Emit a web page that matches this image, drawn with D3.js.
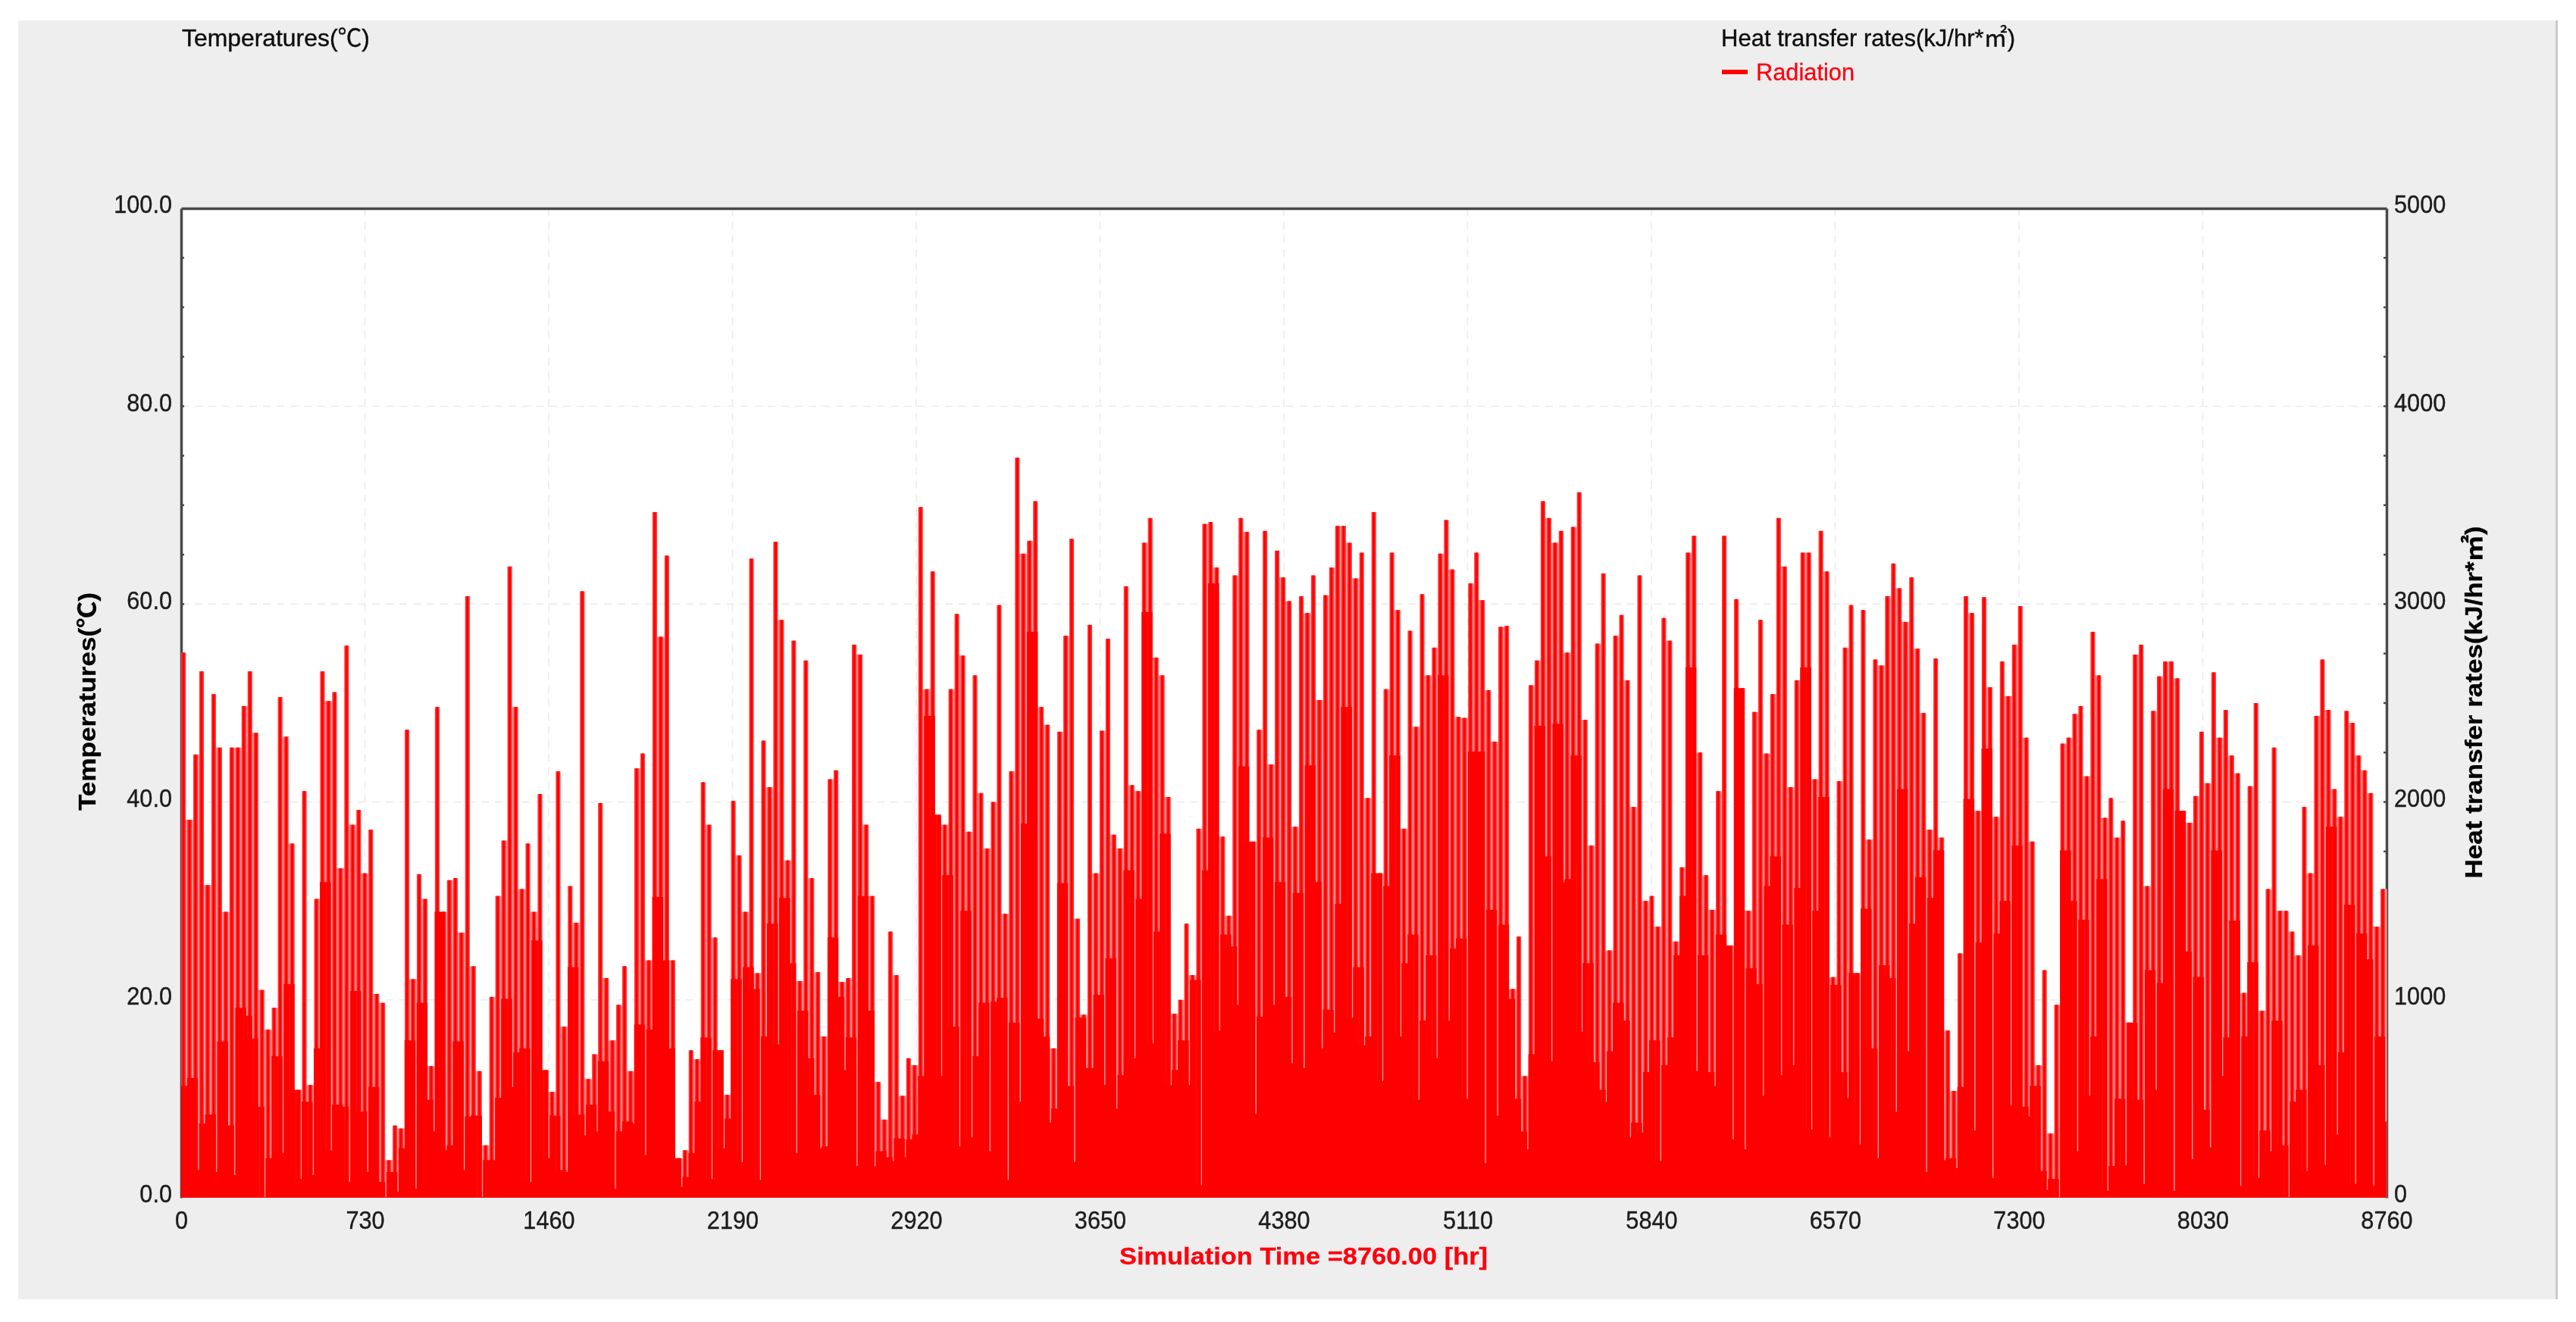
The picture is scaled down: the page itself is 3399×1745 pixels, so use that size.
<!DOCTYPE html>
<html>
<head>
<meta charset="utf-8">
<script src="https://cdn.jsdelivr.net/npm/d3@7/dist/d3.min.js"></script>
<style>
html,body{margin:0;padding:0;background:#fff;overflow:hidden}
text{font-family:"Liberation Sans",Arial,"Noto Sans CJK SC",sans-serif}
</style>
</head>
<body>
<script>
const timeTicks=[0,730,1460,2190,2920,3650,4380,5110,5840,6570,7300,8030,8760];
const tempTicks=[0,20,40,60,80,100];
const rateTicks=[0,1000,2000,3000,4000,5000];
const minorTemp=[5,10,15,25,30,35,45,50,55,65,70,75,85,90,95];
const hoursPerDay=24;
// daily peak height of the Radiation trace (read on the left axis)
const dailyPeak=[
55.1,38.2,44.8,53.2,31.6,50.9,45.5,28.9,45.5,45.5,49.7,53.2,47.0,21.0,17.0,19.2,50.6,46.6,35.8,10.9,
41.1,11.4,30.2,53.2,50.2,51.1,33.3,55.8,37.7,39.2,32.8,37.2,20.6,19.7,3.8,7.3,7.0,47.3,22.1,32.7,
30.2,13.3,49.6,28.9,32.1,32.3,26.8,60.8,23.4,12.8,5.3,20.3,30.5,36.1,63.8,49.6,31.2,35.8,28.9,40.8,
12.9,10.7,43.1,17.3,31.5,27.8,61.3,12.0,14.5,39.9,22.2,15.9,19.5,23.4,12.8,43.4,44.9,24.0,69.3,56.7,
64.9,24.0,4.0,4.8,14.9,14.0,42.0,37.7,26.3,14.9,10.4,40.1,34.6,28.9,64.6,
22.7,46.2,41.5,66.3,58.4,34.1,56.3,21.9,54.3,32.3,22.8,16.3,42.3,43.2,21.8,22.2,55.9,54.9,37.7,30.5,
11.7,7.9,26.9,22.5,10.3,14.1,13.4,69.8,51.4,63.3,38.7,37.7,51.4,59.0,54.8,37.0,52.8,40.9,35.3,40.0,
59.9,28.7,43.1,74.8,65.1,66.4,70.4,49.6,47.8,15.1,47.1,56.8,66.6,28.2,18.5,57.9,32.8,47.2,56.5,36.7,
35.3,61.8,41.7,41.1,66.2,68.7,54.6,52.8,40.5,18.6,20.0,27.7,22.5,37.3,68.1,68.3,63.7,36.5,28.5,62.9,
68.7,67.3,36.0,47.3,67.4,43.8,65.4,62.7,60.3,37.5,60.8,59.1,62.9,50.3,60.9,63.7,67.9,67.9,66.2,62.6,65.2,
40.4,69.3,32.8,51.4,65.2,59.4,37.3,57.3,47.6,61.0,52.8,55.6,65.1,68.5,63.5,48.6,48.5,62.1,65.2,60.4,
51.3,46.1,57.7,57.8,21.1,26.4,12.3,51.8,54.3,70.4,68.7,66.2,67.4,55.1,67.8,71.3,48.3,35.6,56.0,63.1,
25.0,56.8,58.9,52.3,39.5,62.9,30.0,30.5,27.4,58.6,56.3,25.9,33.4,65.2,66.9,45.0,32.6,29.1,41.1,66.9,
25.5,60.5,51.5,29.0,49.1,58.4,44.9,50.9,68.7,63.8,41.5,52.3,65.2,65.2,42.3,67.4,63.3,22.3,42.1,55.6,
59.9,22.7,59.4,36.2,54.4,53.8,60.8,64.1,61.6,58.2,62.7,55.5,49.0,37.2,54.5,36.4,16.9,10.8,24.7,60.8,
59.1,39.1,60.7,51.6,38.5,54.2,50.7,55.9,59.8,46.5,36.0,13.4,23.0,6.5,19.5,45.9,46.5,48.9,49.7,42.6,
57.2,52.8,38.4,40.4,36.4,38.1,17.7,54.9,55.9,31.5,49.2,52.7,54.2,54.2,52.5,39.1,37.9,40.6,47.1,41.9,
53.1,46.5,49.3,44.7,42.9,20.7,41.6,50.0,18.9,31.2,45.5,29.0,29.0,26.9,24.5,39.5,32.8,48.7,54.4,49.3,
41.3,38.5,49.2,48.0,44.7,43.2,40.9,27.4,31.2];
// height the trace drops back to between one day and the next
const dailyDip=[
11.3,12.1,2.8,7.5,8.4,2.6,15.8,7.3,2.3,19.2,18.4,16.1,9.2,0.1,4.0,14.3,4.5,21.6,12.1,1.9,
9.7,2.3,15.1,31.9,4.8,9.4,9.2,1.6,20.9,8.7,2.6,11.2,1.6,0.1,2.6,0.6,5.0,15.9,0.9,19.7,
9.9,6.7,28.9,4.8,5.3,15.8,2.8,8.2,8.3,0.1,3.8,3.8,10.1,20.1,11.2,14.7,15.1,1.6,26.0,12.9,
4.0,8.3,2.8,2.6,23.3,8.4,6.3,9.4,6.7,13.8,8.7,0.9,6.7,7.7,7.5,17.5,4.3,17.0,30.4,24.0,
15.1,4.8,1.1,2.1,4.5,9.7,16.2,1.9,17.7,5.0,8.0,22.1,3.6,23.3,21.1,
1.8,16.3,27.7,15.5,30.3,23.7,4.5,18.9,14.1,10.4,5.0,5.2,26.3,20.3,12.9,16.2,3.2,30.5,18.9,3.2,
4.7,4.1,3.7,6.0,4.1,5.9,6.4,12.3,48.7,38.7,12.3,32.6,17.3,5.2,29.0,6.1,14.3,19.7,4.7,19.8,
20.2,1.8,17.7,9.7,37.8,57.2,18.1,16.3,7.6,9.0,31.8,11.3,3.6,18.2,13.1,13.1,20.5,11.4,24.2,9.0,
12.4,33.1,14.1,30.2,59.2,15.6,26.9,36.8,11.4,12.9,15.9,11.4,22.0,1.3,33.1,62.1,16.9,26.6,25.4,19.5,
43.6,36.0,8.5,18.3,36.4,19.5,31.9,20.3,13.6,30.8,13.1,43.7,31.9,15.1,19.0,16.7,29.7,49.6,18.2,23.3,15.4,
16.3,32.8,11.8,31.5,44.7,16.3,23.7,26.6,9.9,17.9,24.5,14.1,52.8,17.9,25.2,26.2,10.0,45.1,45.1,3.5,
29.1,8.3,27.6,20.1,10.0,6.7,4.9,14.5,47.7,34.5,13.8,47.9,31.9,32.2,44.7,16.8,23.7,13.7,10.9,9.7,
14.8,19.7,17.9,6.1,7.6,6.6,12.7,15.9,3.7,13.4,16.2,24.5,30.5,53.6,12.8,24.5,12.7,11.3,26.6,28.5,
5.9,51.5,4.9,23.2,21.6,10.3,31.5,34.5,12.4,27.6,13.4,31.3,53.6,6.9,29.0,40.5,6.1,21.5,12.7,10.1,
31.3,5.4,29.2,15.1,4.0,23.5,22.2,8.7,41.3,14.8,27.7,32.4,2.6,30.3,35.1,3.8,4.0,3.0,11.2,40.3,
6.8,25.8,45.4,2.0,26.7,30.0,9.3,35.6,9.2,8.2,11.3,2.7,0.8,1.9,0.1,35.1,30.0,4.7,28.1,10.3,
16.3,32.2,0.7,3.2,10.0,3.3,17.7,9.9,1.4,23.0,10.9,21.7,41.3,0.7,42.0,24.9,3.9,22.3,8.9,5.1,
35.1,12.3,16.2,28.0,1.2,16.3,23.8,2.0,6.8,4.7,17.9,5.3,0.1,9.7,10.9,2.7,25.5,13.4,3.3,37.5,
6.4,14.7,29.6,1.4,26.7,24.1,1.2,16.3,7.7];

const W=3399,H=1745;
const L=239,R=3149,T=275,B=1581;
const x=d3.scaleLinear().domain([0,8760]).range([L,R]);
const y=d3.scaleLinear().domain([0,100]).range([B,T]);
const yR=d3.scaleLinear().domain([0,5000]).range([B,T]);

const svg=d3.select("body").append("svg").attr("width",W).attr("height",H).style("display","block");
const defs=svg.append("defs");
defs.append("filter").attr("id","soft").attr("x","0").attr("y","0").attr("width","1").attr("height","1")
  .append("feGaussianBlur").attr("stdDeviation",0.65);
const root=svg.append("g").attr("filter","url(#soft)");

root.append("rect").attr("width",W).attr("height",H).attr("fill","#fff");
root.append("rect").attr("x",24).attr("y",27).attr("width",3351).attr("height",1688).attr("fill","#c9c9c9");
root.append("rect").attr("x",24).attr("y",27).attr("width",3348).attr("height",1688).attr("fill","#eeeeee");
root.append("rect").attr("x",L).attr("y",T).attr("width",R-L).attr("height",B-T).attr("fill","#fff");

// grid
root.append("g").selectAll("line").data(timeTicks.slice(1,-1)).join("line")
  .attr("x1",d=>x(d)).attr("x2",d=>x(d)).attr("y1",T).attr("y2",B)
  .attr("stroke","#ececec").attr("stroke-width",1.6).attr("stroke-dasharray","10 8");
root.append("g").selectAll("line").data(tempTicks.slice(1,-1)).join("line")
  .attr("x1",L).attr("x2",R).attr("y1",d=>y(d)).attr("y2",d=>y(d))
  .attr("stroke","#ececec").attr("stroke-width",1.6).attr("stroke-dasharray","10 8");

// axes
const tickText=g=>{
  g.selectAll(".tick text").attr("font-size",33).attr("fill","#1c1c1c").attr("stroke","#1c1c1c").attr("stroke-width",0.4)
   .each(function(){this.setAttribute("textLength",this.getComputedTextLength()*0.93);this.setAttribute("lengthAdjust","spacingAndGlyphs");});
};
const styleAxis=g=>{
  g.select(".domain").attr("stroke","#4a4a4a").attr("stroke-width",3.5);
  tickText(g);
};
root.append("g").attr("transform",`translate(${L},0)`)
  .call(d3.axisLeft(y).tickValues(tempTicks).tickFormat(d=>d.toFixed(1)).tickSize(0).tickPadding(12))
  .call(styleAxis)
  .call(g=>g.selectAll(".tick text").attr("dy","0.18em"));
root.append("g").attr("transform",`translate(${R},0)`)
  .call(d3.axisRight(yR).tickValues(rateTicks).tickFormat(d3.format("d")).tickSize(0).tickPadding(10))
  .call(styleAxis)
  .call(g=>g.selectAll(".tick text").attr("dy","0.18em"));
root.append("g").attr("transform",`translate(0,${T})`)
  .call(d3.axisTop(x).tickValues([]).tickSize(0)).call(styleAxis);
root.append("g").attr("transform",`translate(0,${B})`)
  .call(d3.axisBottom(x).tickValues(timeTicks).tickFormat(d3.format("d")).tickSize(0).tickPadding(18))
  .call(g=>g.select(".domain").remove())
  .call(tickText);

// minor ticks
[[L,4],[R,-4]].forEach(([px,len])=>{
  root.append("g").selectAll("line").data(minorTemp.concat(tempTicks.slice(1,-1))).join("line")
    .attr("x1",px).attr("x2",px+len).attr("y1",d=>y(d)).attr("y2",d=>y(d))
    .attr("stroke","#4a4a4a").attr("stroke-width",2.5);
});

// Radiation trace
const days=d3.range(dailyPeak.length);
const dayW=x(hoursPerDay)-x(0);
const gap=1.8, barW=dayW-gap, coreW=3;
const dip=i=>Math.min(dailyDip[i],dailyPeak[i],dailyPeak[i+1]??dailyPeak[i]);
const dx=i=>x(i*hoursPerDay);
const clipW=(px,w)=>Math.max(0,Math.min(w,R+1-px));
const marks=root.append("g");
// pale slit between consecutive days
marks.append("g").selectAll("rect").data(days).join("rect")
  .attr("x",i=>dx(i)+barW-0.5).attr("width",i=>clipW(dx(i)+barW-0.5,gap+1))
  .attr("y",i=>y(Math.min(dailyPeak[i],dailyPeak[i+1]??dailyPeak[i])))
  .attr("height",i=>B-y(Math.min(dailyPeak[i],dailyPeak[i+1]??dailyPeak[i])))
  .attr("fill","#ff9a9a");
// upper, lighter part of each day's column
marks.append("g").selectAll("rect").data(days).join("rect")
  .attr("x",i=>dx(i)).attr("width",i=>clipW(dx(i),barW))
  .attr("y",i=>y(dailyPeak[i])).attr("height",i=>B-y(dailyPeak[i]))
  .attr("fill","#ff3c3c");
// solid part below the dips
marks.append("g").selectAll("rect").data(days).join("rect")
  .attr("x",i=>dx(i)-0.2).attr("width",i=>clipW(dx(i),dayW+0.4))
  .attr("y",i=>y(dip(i))).attr("height",i=>B-y(dip(i)))
  .attr("fill","#ff0000");
marks.append("g").selectAll("rect").data(days).join("rect")
  .attr("x",i=>dx(i)).attr("width",i=>clipW(dx(i),barW))
  .attr("y",i=>y(Math.max(i?dip(i-1):0,dip(i)))).attr("height",i=>B-y(Math.max(i?dip(i-1):0,dip(i))))
  .attr("fill","#ff0000");
// bright core reaching the daily peak
marks.append("g").selectAll("rect").data(days).join("rect")
  .attr("x",i=>dx(i)+(barW-coreW)/2).attr("width",coreW)
  .attr("y",i=>y(dailyPeak[i])).attr("height",i=>B-y(dailyPeak[i]))
  .attr("fill","#ff0000");

// titles
const label=(sel,t,w)=>sel.text(t).attr("textLength",w).attr("lengthAdjust","spacingAndGlyphs");
label(root.append("text").attr("x",240).attr("y",61).attr("font-size",32).attr("fill","#111").attr("stroke","#111").attr("stroke-width",0.4),"Temperatures(℃)",248);
label(root.append("text").attr("x",2271).attr("y",61).attr("font-size",32).attr("fill","#111").attr("stroke","#111").attr("stroke-width",0.4),"Heat transfer rates(kJ/hr*㎡)",388);
root.append("line").attr("x1",2272).attr("x2",2306).attr("y1",95).attr("y2",95).attr("stroke","#ff0000").attr("stroke-width",6);
label(root.append("text").attr("x",2317).attr("y",106).attr("font-size",32).attr("fill","#ff0010").attr("stroke","#ff0010").attr("stroke-width",0.3),"Radiation",130);
label(root.append("text").attr("transform","translate(126,926) rotate(-90)").attr("text-anchor","middle")
  .attr("font-size",32).attr("font-weight","bold").attr("fill","#000").attr("stroke","#000").attr("stroke-width",0.3),"Temperatures(℃)",288);
label(root.append("text").attr("transform","translate(3275,927) rotate(-90)").attr("text-anchor","middle")
  .attr("font-size",32).attr("font-weight","bold").attr("fill","#000").attr("stroke","#000").attr("stroke-width",0.3),"Heat transfer rates(kJ/hr*㎡)",465);
label(root.append("text").attr("x",1477).attr("y",1669).attr("font-size",32).attr("font-weight","bold").attr("fill","#ff0010").attr("stroke","#ff0010").attr("stroke-width",0.3),"Simulation Time =8760.00 [hr]",486);
</script>
</body>
</html>
